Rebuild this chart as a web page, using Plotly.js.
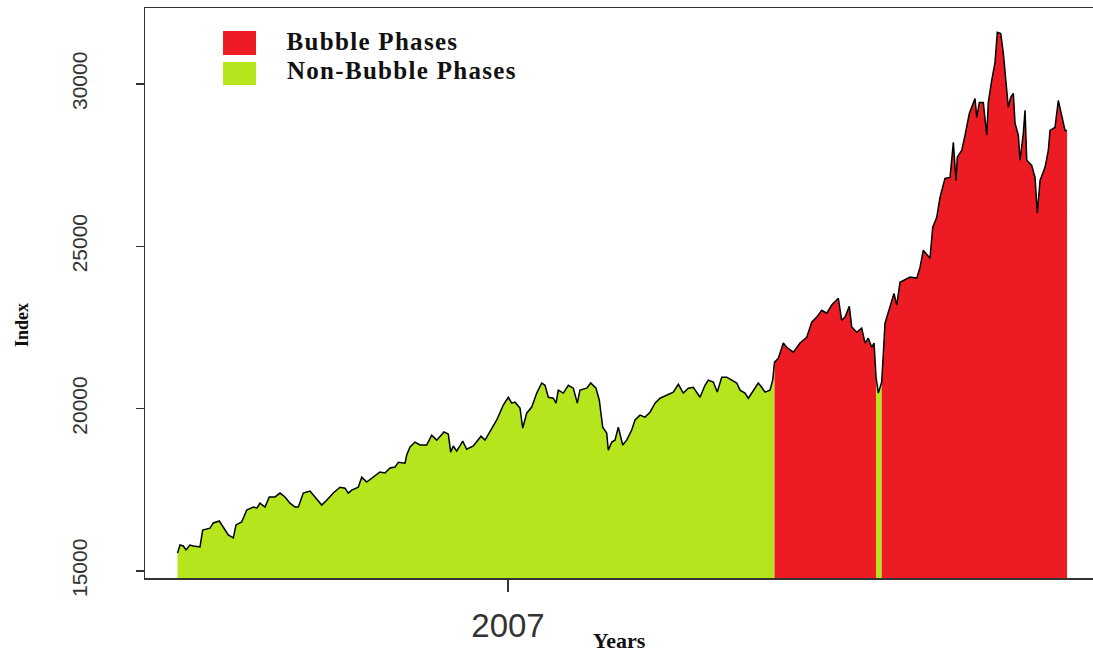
<!DOCTYPE html>
<html>
<head>
<meta charset="utf-8">
<script src="https://cdn.plot.ly/plotly-3.0.1.min.js"></script>
<style>
html, body { margin: 0; padding: 0; background: #ffffff; overflow: hidden; }
#chart { width: 1093px; height: 653px; }
#chart text.annotation-text.legend-label { letter-spacing: 1.3px; }
</style>
</head>
<body>
<div id="chart"></div>
<script>
// Time in decimal years (R ts style), index level
const years = [
  2006.4408, 2006.4450, 2006.4506, 2006.4552, 2006.4619, 2006.4675, 2006.4788, 2006.4834, 2006.4958, 2006.5013,
  2006.5115, 2006.5183, 2006.5267, 2006.5352, 2006.5398, 2006.5494, 2006.5579, 2006.5690, 2006.5753, 2006.5804,
  2006.5888, 2006.5961, 2006.6058, 2006.6142, 2006.6227, 2006.6311, 2006.6396, 2006.6452, 2006.6536, 2006.6650,
  2006.6734, 2006.6848, 2006.6932, 2006.7044, 2006.7157, 2006.7242, 2006.7298, 2006.7355, 2006.7467, 2006.7525,
  2006.7609, 2006.7750, 2006.7834, 2006.7919, 2006.8003, 2006.8088, 2006.8144, 2006.8257, 2006.8286, 2006.8342,
  2006.8426, 2006.8511, 2006.8624, 2006.8709, 2006.8794, 2006.8838, 2006.8917, 2006.8990, 2006.9030, 2006.9074,
  2006.9132, 2006.9234, 2006.9301, 2006.9413, 2006.9497, 2006.9543, 2006.9611, 2006.9695, 2006.9809, 2006.9920,
  2007.0005, 2007.0063, 2007.0118, 2007.0203, 2007.0249, 2007.0316, 2007.0401, 2007.0486, 2007.0570, 2007.0626,
  2007.0682, 2007.0766, 2007.0812, 2007.0851, 2007.0936, 2007.1020, 2007.1105, 2007.1173, 2007.1218, 2007.1332,
  2007.1399, 2007.1489, 2007.1545, 2007.1602, 2007.1670, 2007.1697, 2007.1755, 2007.1810, 2007.1866, 2007.1941,
  2007.2008, 2007.2093, 2007.2149, 2007.2234, 2007.2318, 2007.2403, 2007.2487, 2007.2572, 2007.2685, 2007.2797,
  2007.2882, 2007.2966, 2007.3051, 2007.3135, 2007.3249, 2007.3333, 2007.3389, 2007.3474, 2007.3541, 2007.3616,
  2007.3701, 2007.3785, 2007.3870, 2007.3926, 2007.4010, 2007.4066, 2007.4151, 2007.4235, 2007.4293, 2007.4349,
  2007.4433, 2007.4479,
  2007.4509, 2007.4574, 2007.4658, 2007.4716, 2007.4827, 2007.4941, 2007.5054, 2007.5139, 2007.5223, 2007.5308,
  2007.5393, 2007.5477, 2007.5589, 2007.5646, 2007.5702, 2007.5775, 2007.5816, 2007.5900, 2007.5985, 2007.6041,
  2007.6096, 2007.6154, 2007.6193,
  2007.6227, 2007.6266, 2007.6294,
  2007.6323, 2007.6379, 2007.6435, 2007.6492, 2007.6531, 2007.6577, 2007.6633, 2007.6802, 2007.6915, 2007.6971,
  2007.7027, 2007.7140, 2007.7186, 2007.7254, 2007.7310, 2007.7394, 2007.7479, 2007.7535, 2007.7580, 2007.7602,
  2007.7677, 2007.7733, 2007.7805, 2007.7902, 2007.7931, 2007.7975, 2007.8042, 2007.8100, 2007.8127, 2007.8184,
  2007.8240, 2007.8279, 2007.8337, 2007.8381, 2007.8426, 2007.8465, 2007.8506, 2007.8550, 2007.8579, 2007.8635,
  2007.8663, 2007.8719, 2007.8748, 2007.8777, 2007.8861, 2007.8917, 2007.8956, 2007.9002, 2007.9086, 2007.9142,
  2007.9171, 2007.9255, 2007.9311, 2007.9369, 2007.9425, 2007.9459
];

const indexValues = [
  15550, 15800, 15770, 15650, 15800, 15770, 15740, 16260, 16320, 16480,
  16540, 16350, 16110, 16020, 16420, 16510, 16880, 16970, 16940, 17090,
  16970, 17280, 17280, 17400, 17280, 17090, 16970, 16970, 17400, 17460,
  17280, 17030, 17180, 17400, 17580, 17550, 17400, 17490, 17580, 17890,
  17740, 17950, 18050, 18020, 18170, 18200, 18350, 18320, 18570, 18820,
  18970, 18880, 18880, 19180, 19030, 19120, 19280, 19220, 18660, 18850,
  18690, 19000, 18750, 18850, 19030, 19150, 19030, 19280, 19650, 20110,
  20350, 20170, 20200, 20020, 19400, 19860, 20050, 20480, 20790, 20720,
  20350, 20320, 20170, 20570, 20480, 20720, 20630, 20170, 20570, 20630,
  20790, 20630, 20260, 19430, 19250, 18720, 18970, 19030, 19430, 18880,
  19030, 19340, 19650, 19800, 19740, 19890, 20170, 20320, 20420, 20510,
  20750, 20480, 20630, 20660, 20350, 20720, 20880, 20820, 20510, 20970,
  20970, 20880, 20790, 20570, 20480, 20320, 20570, 20790, 20660, 20510,
  20570, 20880,
  21430, 21550, 22020, 21890, 21740, 22020, 22200, 22660, 22820, 23030,
  22940, 23190, 23400, 22720, 22820, 23150, 22510, 22350, 22480, 22020,
  22170, 21890, 22020,
  20970, 20480, 20630,
  20820, 22630, 22970, 23340, 23550, 23190, 23890, 24050, 24020, 24350,
  24880, 24630, 25590, 25890, 26510, 27090, 27120, 28200, 27030, 27740,
  27950, 28420, 29090, 29550, 28970, 29430, 29430, 28420, 29430, 30110,
  30660, 31590, 31550, 30940, 30110, 29280, 29590, 29710, 28790, 28420,
  27650, 28480, 29190, 27650, 27490, 27120, 26020, 27030, 27430, 27950,
  28570, 28660, 29490, 28970, 28570, 28570
];

// Bubble phase intervals (decimal years)
const bubbleStart = [2007.4500, 2007.6310];
const bubbleEnd   = [2007.6200, 2007.9460];

const phaseNames = ['Bubble Phases', 'Non-Bubble Phases'];
const phaseColors = {'Bubble Phases': '#ED1C24', 'Non-Bubble Phases': '#B5E61D'};

const yTicks = [15000, 20000, 25000, 30000];
const yTickText = ['15000', '20000', '25000', '30000'];
const xTickVals = [2007];
const xTickText = ['2007'];

function isBubble(t) {
  for (let i = 0; i < bubbleStart.length; i++) {
    if (t >= bubbleStart[i] && t <= bubbleEnd[i]) return true;
  }
  return false;
}

// Split into contiguous runs by phase
const runs = [];
for (let i = 0; i < years.length; i++) {
  const ph = isBubble(years[i]) ? phaseNames[0] : phaseNames[1];
  if (!runs.length || runs[runs.length - 1].phase !== ph) {
    runs.push({phase: ph, idx: []});
  }
  runs[runs.length - 1].idx.push(i);
}

const traces = [];
runs.forEach((r, k) => {
  const idx = r.idx.slice();
  if (k < runs.length - 1) idx.push(runs[k + 1].idx[0]);
  traces.push({
    type: 'scatter',
    mode: 'none',
    x: idx.map(i => years[i]),
    y: idx.map(i => indexValues[i]),
    fill: 'tozeroy',
    fillcolor: phaseColors[r.phase],
    showlegend: false,
    hoverinfo: 'skip'
  });
});

traces.push({
  type: 'scatter',
  mode: 'lines',
  x: years,
  y: indexValues,
  line: {color: '#000000', width: 1.5},
  showlegend: false,
  hoverinfo: 'skip'
});

const serif = '"Liberation Serif", "Times New Roman", serif';
const sans = '"Liberation Sans", Arial, sans-serif';

const layout = {
  width: 1093,
  height: 653,
  margin: {l: 145, r: 0, t: 8, b: 75},
  paper_bgcolor: '#ffffff',
  plot_bgcolor: '#ffffff',
  showlegend: false,
  xaxis: {
    range: [2006.3858, 2007.9898],
    tickmode: 'array',
    tickvals: xTickVals,
    ticktext: xTickText,
    ticks: 'outside',
    ticklen: 12,
    tickwidth: 1.5,
    tickcolor: '#333333',
    showline: true,
    linecolor: '#333333',
    linewidth: 1.5,
    mirror: true,
    showgrid: false,
    zeroline: false,
    ticklabelstandoff: 6,
    tickfont: {family: sans, size: 33, color: '#333333'},
    title: {text: 'Years', font: {family: serif, size: 22, color: '#111111', weight: 'bold'}, standoff: 0}
  },
  yaxis: {
    range: [14784, 32339],
    tickmode: 'array',
    tickvals: yTicks,
    ticktext: yTickText,
    ticks: 'outside',
    ticklen: 8,
    tickwidth: 1.5,
    tickcolor: '#333333',
    tickangle: -90,
    showline: true,
    linecolor: '#333333',
    linewidth: 1.5,
    mirror: false,
    showgrid: false,
    zeroline: false,
    ticklabelstandoff: 40,
    tickfont: {family: sans, size: 21, color: '#333333'}
  },
  shapes: [
    {type: 'rect', xref: 'paper', yref: 'paper', x0: 0.0823, x1: 0.1171, y0: 0.9175, y1: 0.9596,
     fillcolor: phaseColors['Bubble Phases'], line: {width: 0}},
    {type: 'rect', xref: 'paper', yref: 'paper', x0: 0.0823, x1: 0.1171, y0: 0.8649, y1: 0.9053,
     fillcolor: phaseColors['Non-Bubble Phases'], line: {width: 0}}
  ],
  annotations: [
    {xref: 'paper', yref: 'paper', x: 0.1566, y: 0.9404, xanchor: 'left', yanchor: 'middle',
     text: phaseNames[0], showarrow: false, font: {family: serif, size: 25, color: '#111111', weight: 'bold'}},
    {xref: 'paper', yref: 'paper', x: 0.1593, y: 0.8895, xanchor: 'left', yanchor: 'middle',
     text: phaseNames[1], showarrow: false, font: {family: serif, size: 25, color: '#111111', weight: 'bold'}},
    {xref: 'paper', yref: 'paper', x: -0.1297, y: 0.4439, xanchor: 'center', yanchor: 'middle',
     text: 'Index', textangle: -90, showarrow: false,
     font: {family: serif, size: 18, color: '#111111', weight: 'bold'}}
  ]
};

Plotly.newPlot('chart', traces, layout, {staticPlot: true, displayModeBar: false}).then(function (gd) {
  const texts = gd.querySelectorAll('text.annotation-text');
  texts.forEach(function (t) {
    if (t.textContent === phaseNames[0] || t.textContent === phaseNames[1]) {
      t.classList.add('legend-label');
    }
  });
});
</script>
</body>
</html>
